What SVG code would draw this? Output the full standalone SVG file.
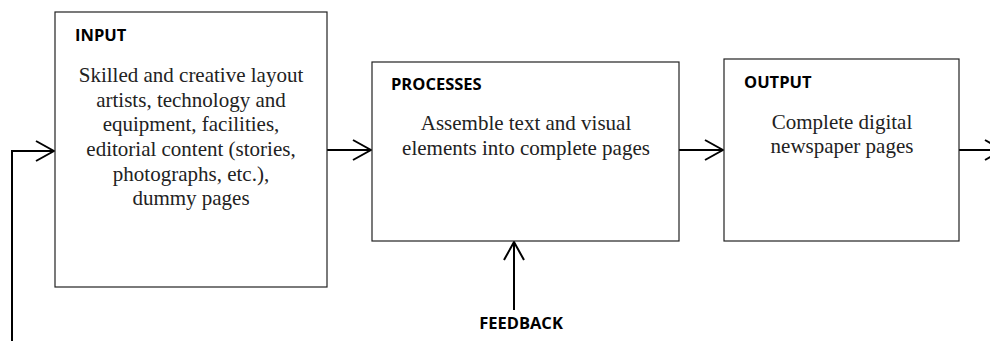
<svg xmlns="http://www.w3.org/2000/svg" width="990" height="341" viewBox="0 0 990 341">
<style>
.box{fill:#fff;stroke:#222;stroke-width:1.2}
.head{font-family:"Open Sans","Liberation Sans",sans-serif;font-weight:bold;font-size:16.5px;fill:#000}
.body{font-family:"Liberation Serif","Times New Roman",serif;font-size:21px;fill:#222;text-anchor:middle}
.conn{fill:none;stroke:#000;stroke-width:2}
</style>
<defs>
<marker id="arr" viewBox="0 0 20 22" markerWidth="20" markerHeight="22" refX="19" refY="11" orient="auto" markerUnits="userSpaceOnUse">
<path d="M1,1 L19,11 L1,21" fill="none" stroke="#000" stroke-width="2"/>
</marker>
</defs>
<rect width="990" height="341" fill="#fff"/>
<g id="connectors">
<polyline class="conn" points="12,341 12,151 54,151" marker-end="url(#arr)"/>
<line class="conn" x1="327" y1="150" x2="371" y2="150" marker-end="url(#arr)"/>
<line class="conn" x1="679" y1="150" x2="723" y2="150" marker-end="url(#arr)"/>
<line class="conn" x1="959" y1="150" x2="1003" y2="150" marker-end="url(#arr)"/>
<line class="conn" x1="514" y1="310" x2="514" y2="242" marker-end="url(#arr)"/>
</g>
<g id="input">
<rect class="box" x="55" y="12" width="272" height="275"/>
<text class="head" x="75" y="41">INPUT</text>
<text class="body" x="191" y="82">Skilled and creative layout</text>
<text class="body" x="191" y="107">artists, technology and</text>
<text class="body" x="191" y="131">equipment, facilities,</text>
<text class="body" x="191" y="156">editorial content (stories,</text>
<text class="body" x="191" y="181">photographs, etc.),</text>
<text class="body" x="191" y="205">dummy pages</text>
</g>
<g id="processes">
<rect class="box" x="372" y="62" width="307" height="179"/>
<text class="head" x="391" y="90">PROCESSES</text>
<text class="body" x="526" y="130">Assemble text and visual</text>
<text class="body" x="526" y="155">elements into complete pages</text>
</g>
<g id="output">
<rect class="box" x="724" y="59" width="235" height="182"/>
<text class="head" x="744" y="88">OUTPUT</text>
<text class="body" x="842" y="129">Complete digital</text>
<text class="body" x="842" y="153">newspaper pages</text>
</g>
<g id="feedback">
<text class="head" x="521" y="329" text-anchor="middle">FEEDBACK</text>
</g>
</svg>
